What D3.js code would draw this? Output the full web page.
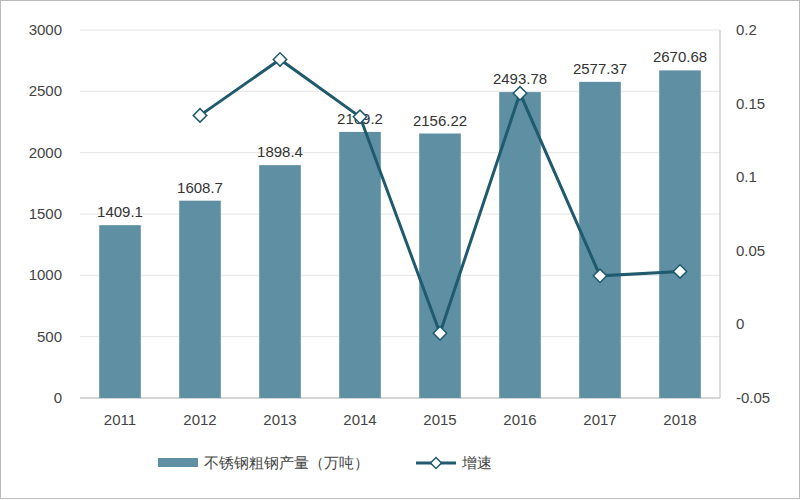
<!DOCTYPE html><html><head><meta charset="utf-8"><script src="https://d3js.org/d3.v7.min.js"></script>
<style>body{margin:0}text{font-family:"Liberation Sans",Arial,sans-serif}</style></head><body><script>
const years=["2011","2012","2013","2014","2015","2016","2017","2018"];
const output=[1409.1,1608.7,1898.4,2169.2,2156.22,2493.78,2577.37,2670.68];
const growth=[null,0.142,0.18,0.141,-0.006,0.157,0.033,0.036];
const leftTicks=[0,500,1000,1500,2000,2500,3000];
const rightTicks=[-0.05,0,0.05,0.1,0.15,0.2];
const svg=d3.select("body").append("svg").attr("width",800).attr("height",500);
svg.append("rect").attr("x",0.5).attr("y",0.5).attr("width",799).attr("height",498).attr("fill","#fff").attr("stroke","#bbb");
const x=d3.scaleBand().domain(years).range([80,720]).paddingInner(0.48).paddingOuter(0.24);
const y=d3.scaleLinear().domain([0,3000]).range([398,30]);
const y2=d3.scaleLinear().domain([-0.05,0.2]).range([398,30]);
svg.append("g").selectAll("line").data(leftTicks).join("line").attr("x1",80).attr("x2",720).attr("y1",d=>y(d)).attr("y2",d=>y(d)).attr("stroke","#e4e4e4");
svg.append("line").attr("x1",80).attr("x2",720).attr("y1",398).attr("y2",398).attr("stroke","#bbb");
svg.append("line").attr("x1",720).attr("x2",720).attr("y1",30).attr("y2",398).attr("stroke","#bbb");
const fs="15px",tc="#444";
svg.append("g").selectAll("text").data(leftTicks).join("text").attr("x",62).attr("y",d=>y(d)+5).attr("text-anchor","end").attr("font-size",fs).attr("fill",tc).text(d=>d);
svg.append("g").selectAll("text").data(rightTicks).join("text").attr("x",736).attr("y",d=>y2(d)+5).attr("font-size",fs).attr("fill",tc).text(d=>d);
svg.append("g").selectAll("text").data(years).join("text").attr("x",d=>x(d)+x.bandwidth()/2).attr("y",425).attr("text-anchor","middle").attr("font-size",fs).attr("fill",tc).text(d=>d);
svg.append("g").selectAll("rect").data(output).join("rect").attr("x",(d,i)=>x(years[i])).attr("width",x.bandwidth()).attr("y",d=>y(d)).attr("height",d=>398-y(d)).attr("fill","#5f8fa2");
svg.append("g").selectAll("text").data(output).join("text").attr("x",(d,i)=>x(years[i])+x.bandwidth()/2).attr("y",d=>y(d)-8).attr("text-anchor","middle").attr("font-size",fs).attr("fill","#333").text(d=>d);
const pts=growth.map((g,i)=>({g,i})).filter(d=>d.g!==null);
const cx=d=>x(years[d.i])+x.bandwidth()/2;
svg.append("path").datum(pts).attr("d",d3.line().x(cx).y(d=>y2(d.g))).attr("fill","none").attr("stroke","#1f5a6e").attr("stroke-width",3);
svg.append("g").selectAll("path").data(pts).join("path").attr("d",d3.symbol(d3.symbolSquare,90)).attr("transform",d=>`translate(${cx(d)},${y2(d.g)}) rotate(45)`).attr("fill","#fff").attr("stroke","#1f5a6e").attr("stroke-width",1.5);
svg.append("rect").attr("x",158).attr("y",458).attr("width",40).attr("height",9).attr("fill","#5f8fa2");
svg.append("text").attr("x",204).attr("y",468).attr("font-size",fs).attr("fill","#444").attr("font-family","Noto Sans CJK SC").text("不锈钢粗钢产量（万吨）");
svg.append("line").attr("x1",416).attr("x2",456).attr("y1",463).attr("y2",463).attr("stroke","#1f5a6e").attr("stroke-width",3);
svg.append("path").attr("d",d3.symbol(d3.symbolSquare,60)).attr("transform","translate(436,463) rotate(45)").attr("fill","#fff").attr("stroke","#1f5a6e").attr("stroke-width",1.5);
svg.append("text").attr("x",462).attr("y",468).attr("font-size",fs).attr("fill","#444").attr("font-family","Noto Sans CJK SC").text("增速");
</script></body></html>
